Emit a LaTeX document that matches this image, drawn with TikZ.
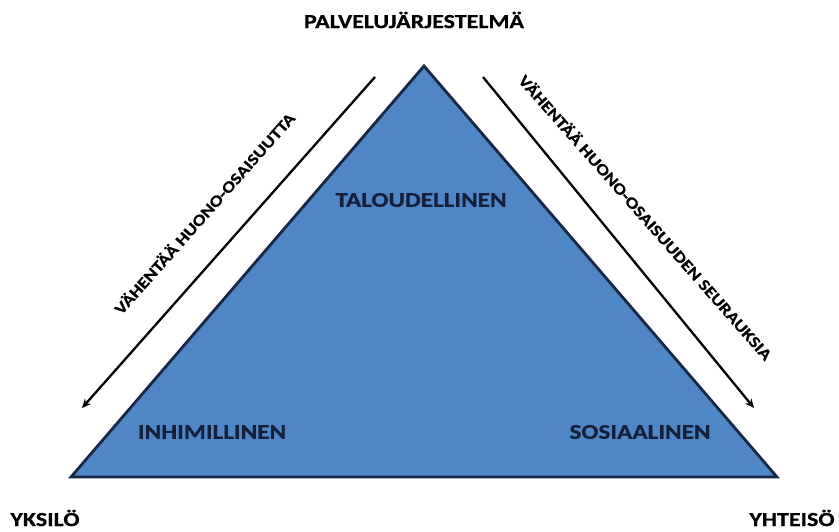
\documentclass[tikz,border=0pt]{standalone}
\usepackage{fontspec}
\setmainfont{Carlito}[FakeStretch=1.2,BoldFeatures={FakeBold=0.6}]
\usetikzlibrary{arrows.meta}

\definecolor{trifill}{RGB}{79,134,197}
\definecolor{triline}{RGB}{22,40,68}
\definecolor{labelnavy}{RGB}{18,32,56}

\tikzset{
  corner/.style={font=\bfseries\fontsize{20}{24}\selectfont},
  level/.style={font=\bfseries\fontsize{21}{25}\selectfont,text=labelnavy},
  side/.style={font=\bfseries\fontsize{16}{19}\selectfont},
  flow/.style={line width=2.3pt,-{Stealth[length=9pt,width=8pt]}},
}

\begin{document}
\begin{tikzpicture}[x=1pt,y=-1pt]
    \useasboundingbox (0,0) rectangle (839,532);
    \coordinate (apex) at (424,66);
    \coordinate (bl) at (71,477);
    \coordinate (br) at (777,477);
    \draw[line width=2.8pt,draw=triline,fill=trifill] (apex) -- (bl) -- (br) -- cycle;

    % arrows along the sides
    \coordinate (ltop) at (375,77);
    \coordinate (lbot) at (82,408);
    \coordinate (rtop) at (483,77);
    \coordinate (rbot) at (754,408);
    \draw[flow] (ltop) -- (lbot);
    \draw[flow] (rtop) -- (rbot);

    \node[side,rotate=48.4] (lefttext) at (204,213) {VÄHENTÄÄ HUONO-OSAISUUTTA};
    \node[side,rotate=-48.6] (righttext) at (646,217) {VÄHENTÄÄ HUONO-OSAISUUDEN SEURAUKSIA};

    \node[corner] (top) at (414,20) {PALVELUJÄRJESTELMÄ};
    \node[corner] (yksilo) at (45,518) {YKSILÖ};
    \node[corner] (yhteiso) at (792,518) {YHTEISÖ};

    \node[level] (talous) at (421,200) {TALOUDELLINEN};
    \node[level] (inhim) at (212,432) {INHIMILLINEN};
    \node[level] (sosiaal) at (640,432) {SOSIAALINEN};
\end{tikzpicture}
\end{document}
